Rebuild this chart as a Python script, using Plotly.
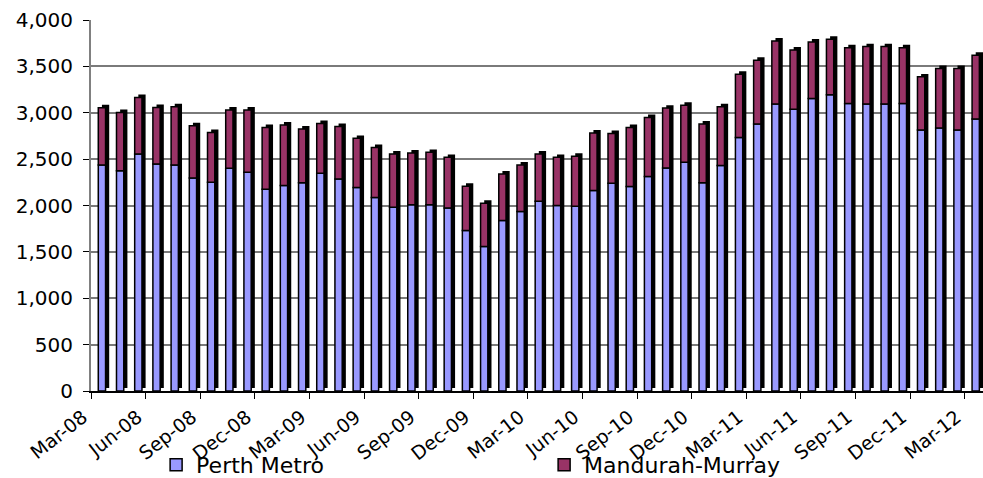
import plotly.graph_objects as go
import numpy as np

months = ["Mar-08", "Apr-08", "May-08", "Jun-08", "Jul-08", "Aug-08", "Sep-08", "Oct-08", "Nov-08", "Dec-08",
          "Jan-09", "Feb-09", "Mar-09", "Apr-09", "May-09", "Jun-09", "Jul-09", "Aug-09", "Sep-09", "Oct-09",
          "Nov-09", "Dec-09", "Jan-10", "Feb-10", "Mar-10", "Apr-10", "May-10", "Jun-10", "Jul-10", "Aug-10",
          "Sep-10", "Oct-10", "Nov-10", "Dec-10", "Jan-11", "Feb-11", "Mar-11", "Apr-11", "May-11", "Jun-11",
          "Jul-11", "Aug-11", "Sep-11", "Oct-11", "Nov-11", "Dec-11", "Jan-12", "Feb-12", "Mar-12"]

perth_metro = [2437, 2376, 2556, 2448, 2437, 2297, 2251, 2401, 2358, 2175,
               2215, 2244, 2347, 2287, 2195, 2085, 1982, 2007, 2007, 1974,
               1731, 1559, 1839, 1935, 2046, 2000, 1993, 2161, 2240, 2204,
               2312, 2403, 2466, 2244, 2430, 2734, 2878, 3093, 3039, 3154,
               3194, 3100, 3093, 3093, 3100, 2813, 2835, 2813, 2932]

mandurah_murray = [617, 627, 609, 609, 627, 563, 537, 628, 671, 667,
                   652, 580, 538, 566, 529, 540, 574, 559, 566, 545,
                   477, 466, 501, 502, 510, 519, 537, 620, 537, 638,
                   638, 647, 616, 634, 634, 682, 688, 681, 638, 609,
                   598, 602, 620, 620, 602, 574, 642, 664, 688]

y_ticks = [0, 500, 1000, 1500, 2000, 2500, 3000, 3500, 4000]

idx = np.arange(len(months))
perth = np.array(perth_metro)
mand = np.array(mandurah_murray)
total = perth + mand

FONT = "DejaVu Sans"
PERTH_C = "#9999FF"
MAND_C = "#993366"

fig = go.Figure()

# empty trace so the main (gridline) axes get drawn
fig.add_trace(go.Scatter(x=[], y=[], showlegend=False, hoverinfo="skip"))

# 3D-like dark side/depth of each column
fig.add_trace(go.Bar(x=idx, y=total, base=0, width=0.4, offset=0.1,
                     marker=dict(color="black", line=dict(width=0)),
                     showlegend=False, hoverinfo="skip", yaxis="y2"))

fig.add_trace(go.Bar(x=idx, y=perth, base=0, width=0.4, offset=-0.1,
                     name="Perth Metro",
                     marker=dict(color=PERTH_C, line=dict(color="black", width=1.5)),
                     yaxis="y3"))
fig.add_trace(go.Bar(x=idx, y=mand, base=perth, width=0.4, offset=-0.1,
                     name="Mandurah-Murray",
                     marker=dict(color=MAND_C, line=dict(color="black", width=1.5)),
                     yaxis="y3"))

tick_idx = list(range(0, len(months), 3))

fig.update_layout(
    width=983, height=478,
    template="none",
    barmode="overlay",
    paper_bgcolor="white", plot_bgcolor="white",
    margin=dict(l=91, r=0, t=20, b=86.5, autoexpand=False),
    font=dict(family=FONT, size=20, color="black"),
    xaxis=dict(range=[-0.5, len(months) - 0.5],
               tickmode="array",
               tickvals=[i - 0.5 for i in tick_idx],
               ticktext=[months[i] for i in tick_idx],
               tickangle=-38, ticks="outside", ticklen=6, tickcolor="black",
               showline=True, linecolor="black", linewidth=1.5,
               showgrid=False, zeroline=False, automargin=False,
               tickfont=dict(family=FONT, size=19, color="black"),
               ticklabelshift=-8),
    yaxis=dict(range=[0, 4000], tickmode="array", tickvals=y_ticks,
               ticktext=[f"{v:,}" for v in y_ticks],
               ticks="outside", ticklen=6, tickcolor="black",
               showline=True, linecolor="#808080", linewidth=2,
               showgrid=True, gridcolor="#7a7a7a", gridwidth=1.5,
               zeroline=False, automargin=False,
               ticklabelstandoff=6,
               tickfont=dict(family=FONT, size=20, color="black")),
    yaxis2=dict(range=[-32, 3968], overlaying="y", visible=False, showgrid=False),
    yaxis3=dict(range=[0, 4000], overlaying="y", visible=False, showgrid=False),
    legend=dict(orientation="h", x=0.073, xanchor="left", y=-0.143, yanchor="top",
                entrywidth=343, entrywidthmode="pixels",
                font=dict(family=FONT, size=22, color="black"),
                bgcolor="rgba(0,0,0,0)", traceorder="normal"),
    showlegend=True,
)

fig.write_html("out.html")
